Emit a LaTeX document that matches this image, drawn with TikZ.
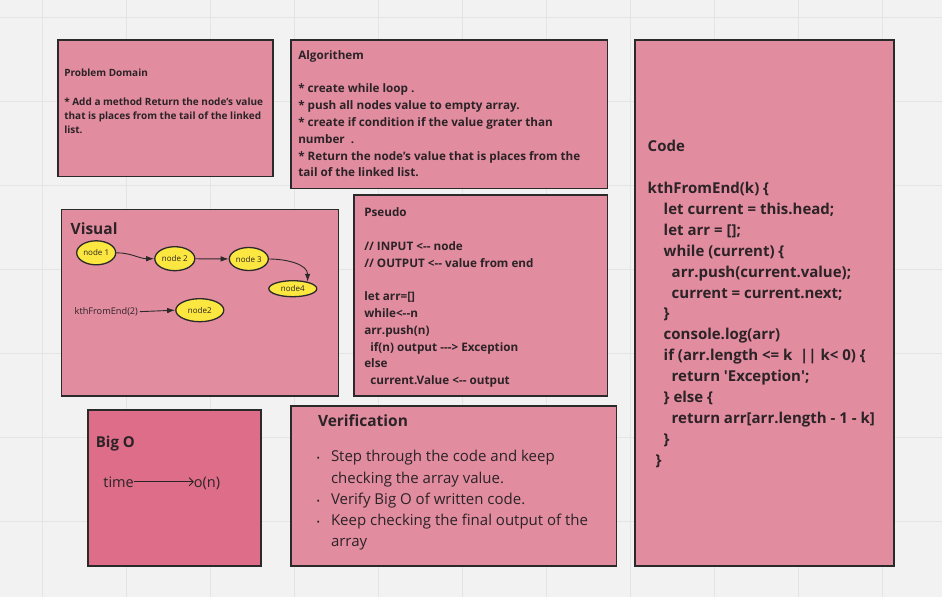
\documentclass[tikz,border=0pt]{standalone}
\usepackage{fontspec}
\setmainfont{Open Sans}
\usetikzlibrary{arrows.meta,shapes.geometric}
\definecolor{bgc}{HTML}{F2F2F2}
\definecolor{gridc}{HTML}{E4E4E4}
\definecolor{cardpink}{HTML}{E28CA0}
\definecolor{cardrose}{HTML}{DD6D89}
\definecolor{edgec}{HTML}{2A2A2A}
\definecolor{inkc}{HTML}{2B2326}
\definecolor{nodey}{HTML}{FCE740}
\newcommand\fsz[2]{\fontsize{#1}{#2}\selectfont}
\newcommand\vbul{\llap{{\fsz{9}{9}•}\hspace{11pt}}}
\begin{document}
\begin{tikzpicture}[x=1pt,y=-1pt,
  card/.style={draw=edgec,line width=1.6pt,fill=cardpink},
  txt/.style={anchor=base west,inner sep=0pt,outer sep=0pt,align=left,text=inkc},
  blk/.style={anchor=north west,inner sep=0pt,outer sep=0pt,align=left,text=inkc},
  ell/.style={ellipse,draw=edgec,line width=1.3pt,fill=nodey,inner sep=0pt,font=\fsz{8}{10},text=inkc},
  link/.style={draw=edgec,line width=0.9pt,-{Latex[length=8pt,width=5.5pt]}},
]
\fill[bgc] (0,0) rectangle (942,597);
\useasboundingbox (0,0) rectangle (942,597);
\foreach \gx in {42,126,...,882} \draw[gridc,line width=1pt] (\gx,0) -- (\gx,597);
\foreach \gy in {17,101,...,521} \draw[gridc,line width=1pt] (0,\gy) -- (942,\gy);

% cards
\draw[card] (58,40) rectangle (273,176.5);
\draw[card] (291,40) rectangle (607.5,188.5);
\draw[card] (61.5,209.5) rectangle (338.5,396);
\draw[card] (354,195) rectangle (607.5,396);
\draw[card,fill=cardrose] (88,410) rectangle (261,566);
\draw[card] (291,406) rectangle (616.5,566);
\draw[card] (635,40) rectangle (894,566);

% problem domain
\node[blk,font=\bfseries\fsz{10}{14.2}] (pdtext) at (64.3,66.76) {\strut Problem Domain\\[14.2pt]
* Add a method Return the node’s value\\
that is places from the tail of the linked\\
list.};

% algorithm
\node[blk,font=\bfseries\fsz{11.7}{16.8}] (algtext) at (298.3,47.54) {\strut Algorithem\\[16.8pt]
* create while loop .\\
* push all nodes value to empty array.\\
* create if condition if the value grater than\\
number\ \ .\\
* Return the node’s value that is places from the\\
tail of the linked list.};

% pseudo
\node[blk,font=\bfseries\fsz{11.7}{16.8}] (pstext) at (364.3,204.94) {\strut Pseudo\\[16.8pt]
// INPUT <-{}- node\\
// OUTPUT <-{}- value from end\\[16.8pt]
let arr=[]\\
while<-{}-n\\
arr.push(n)\\
\hspace*{6pt}if(n) output -{}-{}-> Exception\\
else\\
\hspace*{6pt}current.Value <-{}- output};

% code
\node[blk,font=\bfseries\fsz{15}{20.9}] (codetext) at (647.7,137.07) {\strut Code\\[20.9pt]
kthFromEnd(k) \{\\
\hspace*{16pt}let current = this.head;\\
\hspace*{16pt}let arr = [];\\
\hspace*{16pt}while (current) \{\\
\hspace*{24pt}arr.push(current.value);\\
\hspace*{24pt}current = current.next;\\
\hspace*{16pt}\}\\
\hspace*{16pt}console.log(arr)\\
\hspace*{16pt}if (arr.length <= k \ || k< 0) \{\\
\hspace*{24pt}return \textquotesingle Exception\textquotesingle;\\
\hspace*{16pt}\} else \{\\
\hspace*{24pt}return arr[arr.length - 1 - k]\\
\hspace*{16pt}\}\\
\hspace*{8pt}\}};

% verification
\node[txt,font=\bfseries\fsz{15.5}{20}] (vertitle) at (318,426) {Verification};
\node[blk,font=\fsz{15}{21.3}] (vertext) at (331,446.79) {\strut\vbul Step through the code and keep\\
checking the array value.\\
\vbul Verify Big O of written code.\\
\vbul Keep checking the final output of the\\
array};

% big O
\node[txt,font=\bfseries\fsz{15}{18}] (bigotitle) at (95.9,447.3) {Big O};
\node[txt,font=\fsz{14.5}{18}] (timet) at (103.4,487) {time};
\node[txt,font=\fsz{14.5}{18}] (ont) at (193.8,487) {o(n)};
\draw[line width=0.8pt,draw=inkc,-{Straight Barb[length=4pt,width=8pt]}] (timet.east) -- (timet.east -| ont.west);

% visual
\node[txt,font=\bfseries\fsz{15.5}{18}] (vistitle) at (70.7,234.3) {Visual};
\node[ell,minimum width=39pt,minimum height=24pt] (n1) at (96.2,252.8) {node 1};
\node[ell,minimum width=40pt,minimum height=24pt] (n2) at (174.8,258.7) {node 2};
\node[ell,minimum width=39pt,minimum height=23pt] (n3) at (248.8,259) {node 3};
\node[ell,minimum width=48pt,minimum height=16pt] (n4) at (292.8,288.7) {node4};
\node[ell,minimum width=48pt,minimum height=23pt] (n5) at (199.8,310.2) {node2};
\node[txt,font=\fsz{9.2}{12}] (kth) at (74.7,314.5) {kthFromEnd(2)};
\draw[link] (n1.east) to[out=0,in=180] (n2.west);
\draw[link] (n2) -- (n3);
\draw[link] (n3.east) to[out=0,in=90] (n4.25);
\draw[link,shorten <=2pt] (kth.east) -- (n5.west);
\end{tikzpicture}
\end{document}
